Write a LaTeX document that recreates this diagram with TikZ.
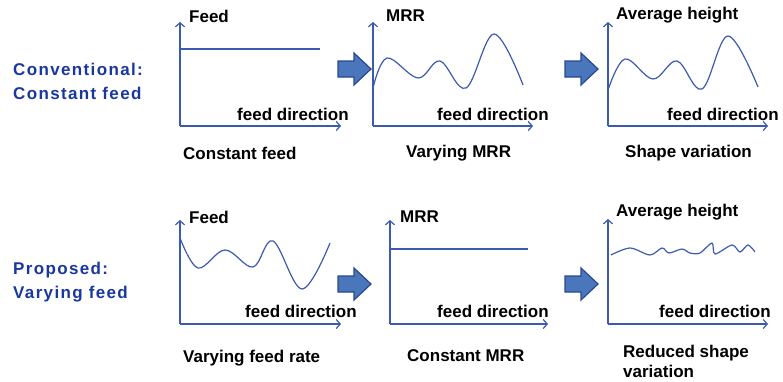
\documentclass[tikz,border=0pt]{standalone}
\usepackage{fontspec}
\setmainfont{Liberation Sans}
\newfontfamily\spaced[LetterSpace=8]{Liberation Sans}
\usetikzlibrary{arrows.meta}
\definecolor{axisblue}{RGB}{60,90,175}
\definecolor{titleblue}{RGB}{25,55,160}
\definecolor{arrowfill}{RGB}{74,119,187}
\definecolor{arrowedge}{RGB}{40,72,145}
\tikzset{
  axis/.style={draw=axisblue, line width=1.2pt, -{Straight Barb[length=4pt,width=9pt]}},
  curve/.style={draw=axisblue, line width=1.2pt, line join=round},
  lbl/.style={font=\fontsize{17}{20}\selectfont\bfseries, text=black, inner sep=0pt},
  side/.style={font=\fontsize{17}{24}\selectfont\bfseries\spaced, text=titleblue, inner sep=0pt, align=left},
  blockarrow/.style={fill=arrowfill, draw=arrowedge, line width=1.2pt, line join=miter},
}
\newcommand{\blockarr}[2]{%
  \draw[blockarrow] (#1,#2-8) -- (#1+16,#2-8) -- (#1+16,#2-16) -- (#1+33,#2) -- (#1+16,#2+16) -- (#1+16,#2+8) -- (#1,#2+8) -- cycle;}
\begin{document}
\begin{tikzpicture}[x=1pt,y=-1pt]
\useasboundingbox (0,0) rectangle (783,381);

% side titles
\node[side, anchor=west] (conv) at (13,81) {Conventional:\\Constant feed};
\node[side, anchor=west] (prop) at (13,282) {Proposed:\\Varying feed};

% ---------- top row ----------
% panel 1: constant feed
\coordinate (o1) at (180,126);
\draw[axis] (o1) -- (180,22);
\draw[axis] (o1) -- (341,126);
\draw[curve] (180,49) -- (320,49);
\node[lbl, anchor=west] (f1) at (189,16) {Feed};
\node[lbl, anchor=west] (d1) at (237,114) {feed direction};
\node[lbl, anchor=west] (c1) at (183,153) {Constant feed};
\blockarr{338}{69}

% panel 2: varying MRR
\coordinate (o2) at (373,126);
\draw[axis] (o2) -- (373,22);
\draw[axis] (o2) -- (533,126);
\draw[curve] plot[smooth, tension=0.6] coordinates {(373,88) (387,58) (418,78) (440,61) (466,88) (494,34) (523,85)};
\node[lbl, anchor=west] (f2) at (386,16) {MRR};
\node[lbl, anchor=west] (d2) at (437,114) {feed direction};
\node[lbl, anchor=west] (c2) at (406,153) {Varying MRR};
\blockarr{565}{69}

% panel 3: shape variation
\coordinate (o3) at (608,126);
\draw[axis] (o3) -- (608,22);
\draw[axis] (o3) -- (768,126);
\draw[curve] plot[smooth, tension=0.6] coordinates {(608,90) (625,59) (653,79) (677,61) (702,89) (728,36) (758,87)};
\node[lbl, anchor=west] (f3) at (616,15) {Average height};
\node[lbl, anchor=west] (d3) at (667,114) {feed direction};
\node[lbl, anchor=west] (c3) at (625,153) {Shape variation};

% ---------- bottom row ----------
% panel 1: varying feed rate
\coordinate (o4) at (180,324);
\draw[axis] (o4) -- (180,220);
\draw[axis] (o4) -- (341,324);
\draw[curve] plot[smooth, tension=0.6] coordinates {(180,238) (198,268) (225,250) (253,267) (273,241) (302,289) (330,243)};
\node[lbl, anchor=west] (f4) at (189,217) {Feed};
\node[lbl, anchor=west] (d4) at (245,311) {feed direction};
\node[lbl, anchor=west] (c4) at (183,358) {Varying feed rate};
\blockarr{338}{284}

% panel 2: constant MRR
\coordinate (o5) at (390,324);
\draw[axis] (o5) -- (390,220);
\draw[axis] (o5) -- (548,324);
\draw[curve] (390,249) -- (528,249);
\node[lbl, anchor=west] (f5) at (400,217) {MRR};
\node[lbl, anchor=west] (d5) at (437,311) {feed direction};
\node[lbl, anchor=west] (c5) at (407,356) {Constant MRR};
\blockarr{565}{284}

% panel 3: reduced shape variation
\coordinate (o6) at (608,324);
\draw[axis] (o6) -- (608,219);
\draw[axis] (o6) -- (768,324);
\draw[curve] plot[smooth, tension=0.5] coordinates {(611,255) (630,248) (650,255) (662,248) (669,253) (682,249) (690,253) (700,253) (712,243) (715,254) (732,245) (740,252) (748,245) (755,252)};
\node[lbl, anchor=west] (f6) at (616,212) {Average height};
\node[lbl, anchor=west] (d6) at (659,311) {feed direction};
\node[lbl, anchor=west, align=left] (c6) at (623,361) {Reduced shape\\variation};
\end{tikzpicture}
\end{document}
